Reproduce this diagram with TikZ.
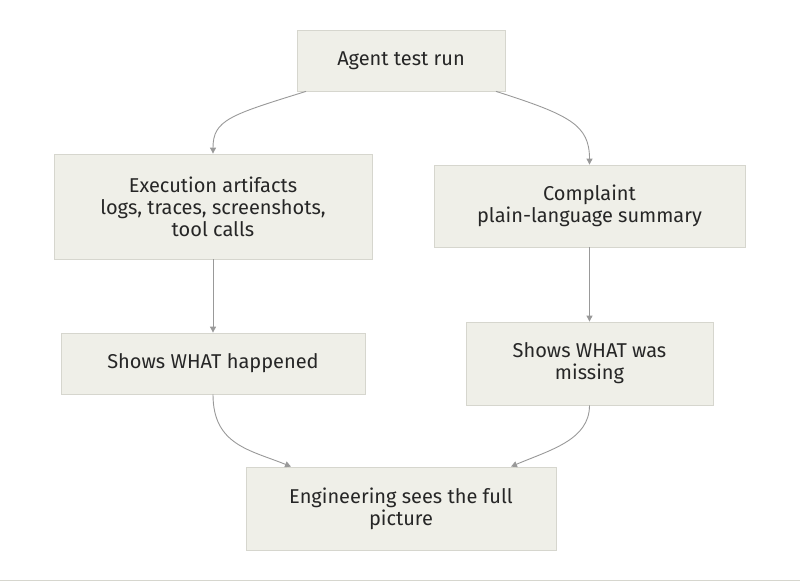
\documentclass[tikz,border=0pt]{standalone}
\usepackage{fontspec}
\setmainfont{Fira Sans}
\usetikzlibrary{arrows.meta}
\definecolor{boxfill}{HTML}{EFEFE8}
\definecolor{boxline}{HTML}{D6D6CE}
\definecolor{arr}{HTML}{999999}
\begin{document}
\begin{tikzpicture}[x=1pt,y=-1pt,
  box/.style={draw=boxline,fill=boxfill,line width=0.8pt,align=center,inner sep=0pt,font=\fontsize{20}{22}\selectfont,text=black!85},
  con/.style={draw=arr,line width=0.9pt,-{Triangle[length=6pt,width=6pt]}}]
\useasboundingbox (0,0) rectangle (800,588);
\draw[boxline,line width=0.8pt] (0,580) -- (800,580);
\node[box,minimum width=208,minimum height=61] (a) at (401,60.5) {Agent test run};
\node[box,minimum width=318,minimum height=105] (b) at (213,206.5) {Execution artifacts\\logs, traces, screenshots,\\tool calls};
\node[box,minimum width=311,minimum height=82] (c) at (589.5,206) {Complaint\\plain-language summary};
\node[box,minimum width=304,minimum height=61] (d) at (213,363.5) {Shows WHAT happened};
\node[box,minimum width=247,minimum height=83] (e) at (589.5,363.5) {Shows WHAT was\\missing};
\node[box,minimum width=310,minimum height=83] (f) at (401,508.5) {Engineering sees the full\\picture};
\draw[con] ([xshift=-95pt]a.south) .. controls (230,115) and (213,120) .. (b.north);
\draw[con] ([xshift=95pt]a.south) .. controls (570,115) and (589.5,125) .. (c.north);
\draw[con] (b.south) -- (d.north);
\draw[con] (c.south) -- (e.north);
\draw[con] (d.south) .. controls (213,445) and (250,450) .. ([xshift=-110pt]f.north);
\draw[con] (e.south) .. controls (589.5,440) and (550,450) .. ([xshift=110pt]f.north);
\end{tikzpicture}
\end{document}
